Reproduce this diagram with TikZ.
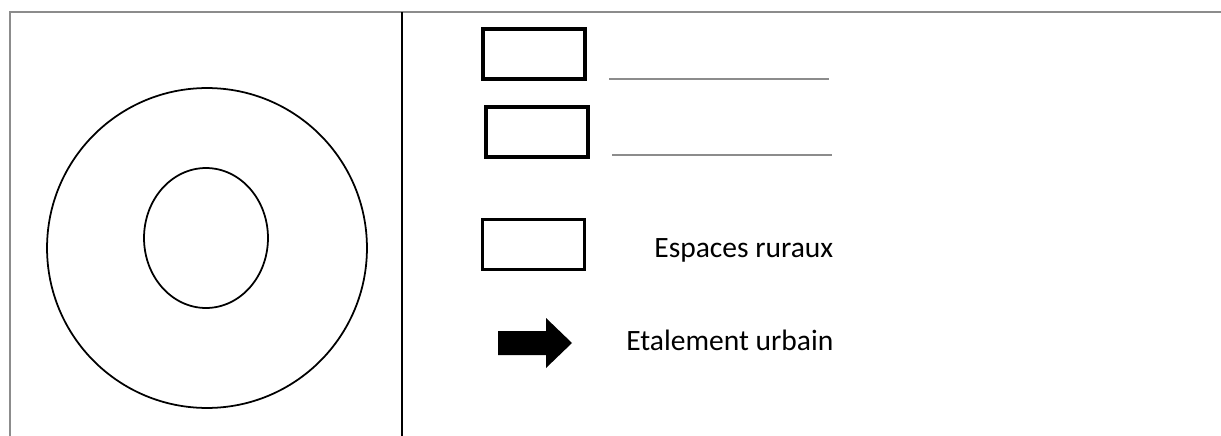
\documentclass[tikz,border=0pt]{standalone}
\usepackage{fontspec}
\setmainfont{Carlito}
\usetikzlibrary{positioning,shapes.geometric}

\begin{document}
\begin{tikzpicture}[
	x=0.02cm, y=-0.02cm,
	legendbox/.style={rectangle, draw=black, line width=1.8pt, minimum width=2.04cm, minimum height=1cm, inner sep=0pt},
	thinbox/.style={legendbox, line width=1.2pt},
	ring/.style={draw, ellipse, line width=1pt, inner sep=0pt},
	blankline/.style={draw=black!45, line width=0.6pt},
	legendtext/.style={anchor=west, inner sep=0pt, font=\fontsize{16.8}{20}\selectfont},
	framebar/.style={draw=black!45, line width=1.7pt}
	]
	\useasboundingbox (0,0) rectangle (1221,436);
	%Frame
	\coordinate (FrameTL) at (10,12);
	\coordinate (FrameTR) at (1221,12);
	\coordinate (FrameBL) at (10,436);
	\coordinate (DivTop) at (402,12);
	\coordinate (DivBot) at (402,436);
	\draw[framebar] (FrameBL) -- (FrameTL) -- (FrameTR);
	\draw[line width=0.85pt] (DivTop) -- (DivBot);
	%Map
	\node[ring, minimum width=6.4cm, minimum height=6.4cm] (OuterRing) at (207,248) {};
	\node[ring, minimum width=2.48cm, minimum height=2.8cm] (InnerCore) at (206,238) {};
	%Legend
	\node[legendbox] (BoxOne) at (534,54) {};
	\node[legendbox] (BoxTwo) at (537,132) {};
	\node[thinbox] (BoxRural) at (533.5,244.5) {};
	\coordinate (LineOneA) at (609,79);
	\coordinate (LineOneB) at (829,79);
	\coordinate (LineTwoA) at (612,155);
	\coordinate (LineTwoB) at (832,155);
	\draw[blankline] (LineOneA) -- (LineOneB);
	\draw[blankline] (LineTwoA) -- (LineTwoB);
	\node[legendtext] (RuralText) at (654,250) {Espaces ruraux};
	% Spreading arrow
	\fill (498,331) -- (546,331) -- (546,318) -- (572,343) -- (546,368) -- (546,355) -- (498,355) -- cycle;
	\coordinate (ArrowTip) at (572,343);
	\node[legendtext] (SprawlText) at (626,340) {Etalement urbain};
\end{tikzpicture}
\end{document}
